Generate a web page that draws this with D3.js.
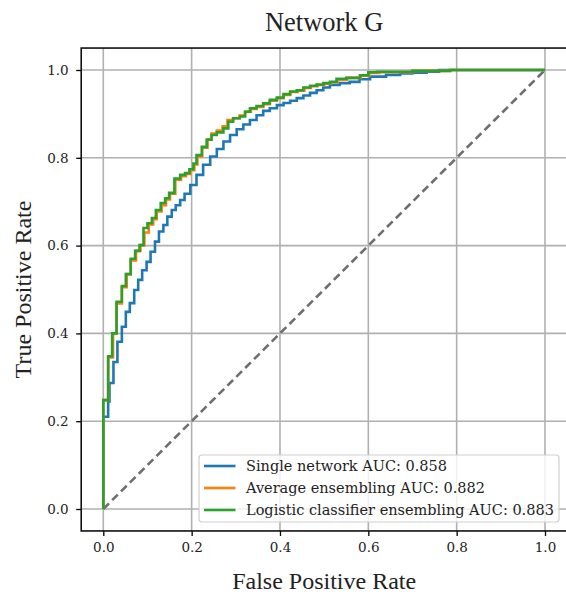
<!DOCTYPE html>
<html>
<head>
<meta charset="utf-8">
<script src="https://cdn.jsdelivr.net/npm/d3@7"></script>
<style>
  body { margin: 0; background: #fff; }
  svg { display: block; }
</style>
</head>
<body>
<div id="chart"></div>
<script>
// ROC points: [false positive rate, true positive rate]
const singleNetwork = [[0,0],[0,0.21],[0.011,0.245],[0.014,0.287],[0.023,0.335],[0.032,0.381],[0.042,0.415],[0.051,0.449],[0.060,0.469],[0.07,0.499],[0.079,0.522],[0.088,0.544],[0.098,0.563],[0.107,0.586],[0.117,0.609],[0.126,0.632],[0.136,0.647],[0.145,0.666],[0.155,0.681],[0.164,0.692],[0.174,0.704],[0.184,0.718],[0.197,0.738],[0.211,0.761],[0.226,0.784],[0.242,0.803],[0.257,0.820],[0.272,0.837],[0.287,0.852],[0.302,0.865],[0.317,0.876],[0.332,0.886],[0.347,0.897],[0.362,0.907],[0.377,0.913],[0.393,0.920],[0.408,0.925],[0.423,0.930],[0.438,0.936],[0.453,0.942],[0.468,0.948],[0.483,0.954],[0.498,0.960],[0.513,0.966],[0.535,0.970],[0.558,0.973],[0.58,0.979],[0.604,0.985],[0.64,0.989],[0.672,0.992],[0.70,0.994],[0.732,0.996],[0.76,1.0],[1,1]];

const averageEnsembling = [[0,0],[0,0.248],[0.011,0.345],[0.022,0.40],[0.030,0.468],[0.042,0.505],[0.053,0.535],[0.062,0.566],[0.074,0.588],[0.084,0.601],[0.093,0.630],[0.103,0.648],[0.113,0.660],[0.121,0.678],[0.132,0.692],[0.142,0.705],[0.151,0.718],[0.163,0.750],[0.176,0.758],[0.187,0.763],[0.197,0.772],[0.206,0.785],[0.213,0.803],[0.224,0.823],[0.236,0.842],[0.245,0.855],[0.257,0.862],[0.270,0.872],[0.281,0.886],[0.294,0.890],[0.309,0.896],[0.321,0.905],[0.334,0.911],[0.347,0.916],[0.362,0.922],[0.377,0.930],[0.393,0.936],[0.408,0.943],[0.423,0.950],[0.440,0.953],[0.455,0.959],[0.470,0.963],[0.485,0.966],[0.500,0.969],[0.515,0.972],[0.530,0.978],[0.552,0.982],[0.583,0.987],[0.602,0.993],[0.625,0.995],[0.70,0.998],[0.785,1.0],[1,1]];

const logisticEnsembling = [[0,0],[0,0.248],[0.011,0.348],[0.02,0.40],[0.030,0.472],[0.042,0.508],[0.051,0.535],[0.062,0.570],[0.072,0.588],[0.082,0.601],[0.091,0.640],[0.10,0.651],[0.11,0.663],[0.119,0.681],[0.13,0.697],[0.14,0.708],[0.149,0.72],[0.161,0.753],[0.174,0.761],[0.185,0.765],[0.195,0.774],[0.204,0.787],[0.211,0.806],[0.223,0.825],[0.234,0.841],[0.245,0.852],[0.257,0.858],[0.272,0.867],[0.283,0.882],[0.294,0.890],[0.309,0.894],[0.321,0.905],[0.332,0.913],[0.347,0.918],[0.362,0.924],[0.377,0.932],[0.393,0.937],[0.408,0.945],[0.423,0.951],[0.438,0.954],[0.453,0.960],[0.468,0.964],[0.483,0.967],[0.498,0.970],[0.513,0.973],[0.528,0.980],[0.55,0.982],[0.581,0.988],[0.60,0.995],[0.62,0.996],[0.70,0.998],[0.785,1.0],[1,1]];

const chance = [[0,0],[1,1]];

const seriesNames = ["Single network AUC: 0.858", "Average ensembling AUC: 0.882", "Logistic classifier ensembling AUC: 0.883"];
const seriesColors = ["#1f77b4", "#ff7f0e", "#2ca02c"];
const tickValues = [0, 0.2, 0.4, 0.6, 0.8, 1.0];

const width = 566;
const height = 595;

const x = d3.scaleLinear().domain([0, 1]).range([103.3, 545]);
const y = d3.scaleLinear().domain([0, 1]).range([509, 70]);

const svg = d3.select("#chart").append("svg")
    .attr("width", width)
    .attr("height", height);

// grid
svg.append("g")
    .selectAll("line")
    .data(tickValues)
    .join("line")
    .attr("x1", d => x(d)).attr("x2", d => x(d))
    .attr("y1", y(1.05)).attr("y2", y(-0.05))
    .attr("stroke", "#b0b0b0").attr("stroke-width", 1.6);

svg.append("g")
    .selectAll("line")
    .data(tickValues)
    .join("line")
    .attr("y1", d => y(d)).attr("y2", d => y(d))
    .attr("x1", x(-0.05)).attr("x2", x(1.05))
    .attr("stroke", "#b0b0b0").attr("stroke-width", 1.6);

// chance diagonal
svg.append("path")
    .datum(chance)
    .attr("d", d3.line().x(d => x(d[0])).y(d => y(d[1])))
    .attr("fill", "none")
    .attr("stroke", "#6e6e6e")
    .attr("stroke-width", 2.6)
    .attr("stroke-dasharray", "8,4.5");

const stepLine = d3.line()
    .x(d => x(d[0]))
    .y(d => y(d[1]))
    .curve(d3.curveStepAfter);

[singleNetwork, averageEnsembling, logisticEnsembling].forEach((s, i) => {
    svg.append("path")
        .datum(s)
        .attr("d", stepLine)
        .attr("fill", "none")
        .attr("stroke", seriesColors[i])
        .attr("stroke-width", 2.6)
        .attr("stroke-linejoin", "miter");
});

// axes
const xAxis = svg.append("g")
    .attr("transform", `translate(0,${y(-0.05)})`)
    .call(d3.axisBottom(x).tickValues(tickValues).tickFormat(d3.format(".1f")).tickSize(5).tickPadding(6));
const yAxis = svg.append("g")
    .attr("transform", `translate(${x(-0.05)},0)`)
    .call(d3.axisLeft(y).tickValues(tickValues).tickFormat(d3.format(".1f")).tickSize(5).tickPadding(7.5));

[xAxis, yAxis].forEach(a => {
    a.select(".domain").remove();
    a.selectAll(".tick line").attr("stroke", "#000").attr("stroke-width", 1.3);
    a.selectAll(".tick text")
        .attr("font-family", "'DejaVu Serif', serif")
        .attr("font-size", 13.5)
        .attr("fill", "#222");
});

// frame (right edge falls just outside the picture)
svg.append("rect")
    .attr("x", x(-0.05))
    .attr("y", y(1.05))
    .attr("width", x(1.05) - x(-0.05) + 2)
    .attr("height", y(-0.05) - y(1.05))
    .attr("fill", "none")
    .attr("stroke", "#111")
    .attr("stroke-width", 1.6);

// titles
svg.append("text")
    .attr("x", (x(-0.05) + x(1.05)) / 2)
    .attr("y", 31)
    .attr("text-anchor", "middle")
    .attr("font-family", "'Liberation Serif', serif")
    .attr("font-size", 26.5)
    .attr("fill", "#222")
    .text("Network G");

svg.append("text")
    .attr("x", (x(-0.05) + x(1.05)) / 2)
    .attr("y", 589)
    .attr("text-anchor", "middle")
    .attr("font-family", "'Liberation Serif', serif")
    .attr("font-size", 24)
    .attr("fill", "#222")
    .text("False Positive Rate");

svg.append("text")
    .attr("transform", `translate(31,${(y(-0.05) + y(1.05)) / 2}) rotate(-90)`)
    .attr("text-anchor", "middle")
    .attr("font-family", "'Liberation Serif', serif")
    .attr("font-size", 24)
    .attr("fill", "#222")
    .text("True Positive Rate");

// legend
const legend = svg.append("g");
legend.append("rect")
    .attr("x", 199).attr("y", 455)
    .attr("width", 360).attr("height", 67)
    .attr("rx", 3)
    .attr("fill", "#fff").attr("fill-opacity", 0.8)
    .attr("stroke", "#cfcfcf").attr("stroke-width", 1.2);

const items = legend.selectAll("g.item")
    .data(seriesNames)
    .join("g")
    .attr("class", "item")
    .attr("transform", (d, i) => `translate(204,${466 + i * 22})`);

items.append("line")
    .attr("x1", 0).attr("x2", 31.5)
    .attr("stroke", (d, i) => seriesColors[i])
    .attr("stroke-width", 2.6);

items.append("text")
    .attr("x", 42)
    .attr("dy", "0.35em")
    .attr("font-family", "'DejaVu Serif', serif")
    .attr("font-size", 14.5)
    .attr("fill", "#222")
    .text(d => d);
</script>
</body>
</html>
